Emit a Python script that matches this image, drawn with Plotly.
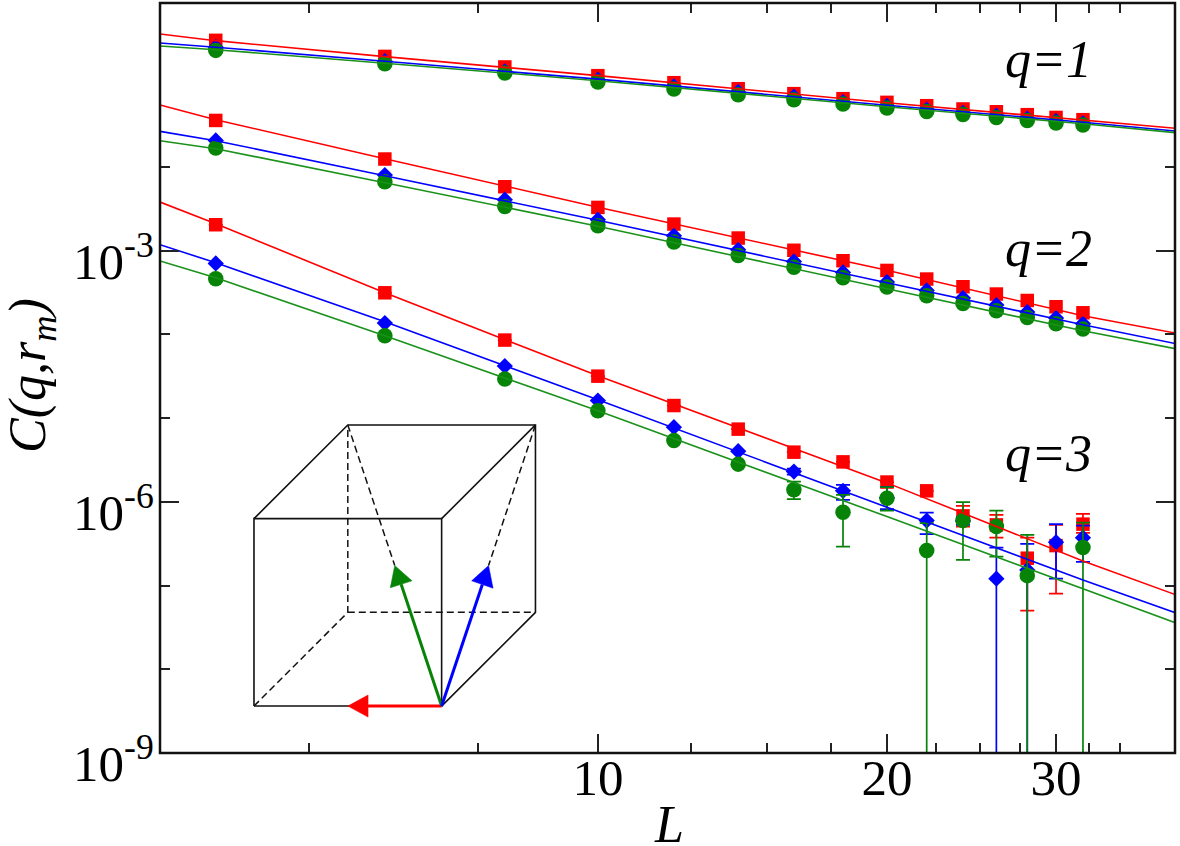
import plotly.graph_objects as go

# System sizes and fit abscissae
L = [4, 6, 8, 10, 12, 14, 16, 18, 20, 22, 24, 26, 28, 30, 32]
L_fit = [3.5, 4, 6, 10, 20, 32, 40]

# log10 C(q, r_m) per vector direction: red (100), blue (111), green (-111)
q1_red = [-0.486, -0.678, -0.804, -0.908, -0.992, -1.064, -1.123, -1.183, -1.227, -1.267, -1.306, -1.339, -1.374, -1.407, -1.434]
q1_blue = [-0.568, -0.735, -0.857, -0.956, -1.036, -1.103, -1.159, -1.223, -1.270, -1.315, -1.354, -1.386, -1.422, -1.450, -1.478]
q1_green = [-0.606, -0.765, -0.876, -0.984, -1.067, -1.135, -1.195, -1.247, -1.294, -1.335, -1.371, -1.407, -1.443, -1.474, -1.498]
q2_red = [-1.443, -1.904, -2.235, -2.482, -2.681, -2.848, -2.994, -3.119, -3.235, -3.338, -3.430, -3.517, -3.594, -3.669, -3.741]
q2_blue = [-1.682, -2.095, -2.390, -2.629, -2.821, -2.988, -3.128, -3.259, -3.374, -3.474, -3.565, -3.649, -3.733, -3.804, -3.872]
q2_green = [-1.772, -2.175, -2.470, -2.701, -2.896, -3.056, -3.197, -3.323, -3.434, -3.538, -3.630, -3.717, -3.797, -3.872, -3.936]
q3_red = [-2.689, -3.502, -4.067, -4.498, -4.849, -5.131, -5.406, -5.522, -5.763, -5.868, -6.167, -6.275, -6.673, -6.522, -6.266]
q3_blue = [-3.152, -3.864, -4.378, -4.789, -5.107, -5.394, -5.638, -5.868, -5.952, -6.223, -6.227, -6.917, -6.813, -6.482, -6.427]
q3_green = [-3.335, -4.016, -4.533, -4.912, -5.267, -5.549, -5.856, -6.123, -5.956, -6.582, -6.223, -6.295, -6.881, None, -6.546]

# Upper and lower error limits for q=3 (log10); None where the bar is negligible,
# -12 where the lower limit falls far below the axis
q3_red_hi = [None] * 10 + [-6.048, -6.155, -6.427, -6.275, -6.143]
q3_red_lo = [None] * 10 + [-6.295, -6.426, -7.299, -7.096, -6.370]
q3_blue_hi = [None] * 6 + [-5.602, -5.797, -5.820, -6.128, -6.179, -6.546, -6.502, -6.266, -6.283]
q3_blue_lo = [None] * 6 + [-5.674, -5.976, -6.087, -6.386, -6.275, -12, -12, -6.917, -6.717]
q3_green_hi = [None] * 6 + [-5.757, -5.916, -5.824, -6.254, -6.003, -6.104, -6.394, None, -6.247]
q3_green_lo = [None] * 6 + [-5.968, -6.534, -6.104, -12, -6.693, -6.654, -12, None, -12]

# Fit curves (log10) evaluated at L_fit
fit_q1_red = [-0.410, -0.490, -0.681, -0.908, -1.231, -1.440, -1.538]
fit_q1_blue = [-0.518, -0.568, -0.735, -0.950, -1.261, -1.464, -1.570]
fit_q1_green = [-0.553, -0.598, -0.759, -0.968, -1.279, -1.482, -1.590]
fit_q2_red = [-1.259, -1.434, -1.900, -2.480, -3.233, -3.777, -3.984]
fit_q2_blue = [-1.574, -1.685, -2.104, -2.635, -3.382, -3.884, -4.111]
fit_q2_green = [-1.685, -1.781, -2.187, -2.707, -3.454, -3.956, -4.171]
fit_q3_red = [-2.418, -2.677, -3.502, -4.494, -5.773, -6.705, -7.111]
fit_q3_blue = [-2.928, -3.143, -3.849, -4.781, -6.063, -6.932, -7.327]
fit_q3_green = [-3.123, -3.323, -4.016, -4.912, -6.176, -7.040, -7.446]

# Axis ticks
x_major = [10, 20, 30, 40]
x_major_text = ["10", "20", "30", ""]
x_minor = [5, 7.5, 12.5, 15, 17.5, 22.5, 25, 27.5, 32.5, 35]
y_major = [1e-9, 1e-6, 1e-3]
y_major_text = ["10<sup>-9</sup>", "10<sup>-6</sup>", "10<sup>-3</sup>"]
y_minor = [1e-8, 1e-7, 1e-5, 1e-4, 1e-2]

# Panel labels
q_labels = ["q=1", "q=2", "q=3"]

# Inset cube in units of the lattice edge, with the back face shifted by half an edge
cube_solid = [
    ([0, 1, 1, 0, 0], [0, 0, 1, 1, 0]),
    ([0, 0.5, 1.5, 1.5, 1], [1, 1.5, 1.5, 0.5, 0]),
    ([1, 1.5], [1, 1.5]),
]
cube_dashed = [
    ([0, 0.5, 0.5], [0, 0.5, 1.5]),
    ([0.5, 1.5], [0.5, 0.5]),
    ([0.5, 0.75], [1.5, 0.75]),
    ([1.5, 1.25], [1.5, 0.75]),
]
vec_start = (1, 0)
vec_red = {"tip": (0.5, 0), "base": [(0.608, 0.059), (0.608, -0.059)]}
vec_green = {"tip": (0.75, 0.75), "base": [(0.7265, 0.631), (0.842, 0.668)]}
vec_blue = {"tip": (1.25, 0.75), "base": [(1.160, 0.668), (1.274, 0.629)]}

RED = "#ff0000"
BLUE = "#0000ff"
GREEN = "#078407"
FIT_GREEN = "#1a921a"
FONT = "Liberation Serif"
INK = "#111111"

W, H = 1180, 846
M_L, M_R, M_T, M_B = 160, 5, 3, 93
PW, PH = W - M_L - M_R, H - M_T - M_B


def up(v):
    return None if v is None else 10.0 ** v


def ups(vals):
    return [up(v) for v in vals]


fig = go.Figure()


def add_points(vals, color, symbol, size, hi=None, lo=None):
    ys = ups(vals)
    kw = {}
    if hi is not None:
        plus = [0 if (h is None or y is None) else 10 ** h - y for h, y in zip(hi, ys)]
        minus = [0 if (l is None or y is None) else y - 10 ** l for l, y in zip(lo, ys)]
        kw["error_y"] = dict(type="data", symmetric=False, array=plus, arrayminus=minus,
                             color=color, thickness=1.7, width=7)
    fig.add_trace(go.Scatter(x=L, y=ys, mode="markers", showlegend=False,
                             marker=dict(color=color, symbol=symbol, size=size, line_width=0), **kw))


SQUARE, DIAMOND, CIRCLE = ("square", 13.5), ("diamond", 12.5), ("circle", 15.5)
for red, blue, green, errs in [
    (q1_red, q1_blue, q1_green, None),
    (q2_red, q2_blue, q2_green, None),
    (q3_red, q3_blue, q3_green,
     (q3_red_hi, q3_red_lo, q3_blue_hi, q3_blue_lo, q3_green_hi, q3_green_lo)),
]:
    e = errs or (None,) * 6
    add_points(red, RED, *SQUARE, e[0], e[1])
    add_points(blue, BLUE, *DIAMOND, e[2], e[3])
    add_points(green, GREEN, *CIRCLE, e[4], e[5])

# Fit curves sit above the symbols
for fit, color in [
    (fit_q1_red, RED), (fit_q1_blue, BLUE), (fit_q1_green, FIT_GREEN),
    (fit_q2_red, RED), (fit_q2_blue, BLUE), (fit_q2_green, FIT_GREEN),
    (fit_q3_red, RED), (fit_q3_blue, BLUE), (fit_q3_green, FIT_GREEN),
]:
    fig.add_trace(go.Scatter(x=L_fit, y=ups(fit), mode="lines", showlegend=False,
                             line=dict(color=color, width=1.6)))

# Inset cube
for xs, ys in cube_solid:
    fig.add_trace(go.Scatter(x=xs, y=ys, xaxis="x2", yaxis="y2", mode="lines", showlegend=False,
                             line=dict(color="#111111", width=1.6)))
for xs, ys in cube_dashed:
    fig.add_trace(go.Scatter(x=xs, y=ys, xaxis="x2", yaxis="y2", mode="lines", showlegend=False,
                             line=dict(color="#111111", width=1.5, dash="7px,4px")))
for vec, color, in [(vec_red, RED), (vec_green, GREEN), (vec_blue, BLUE)]:
    (tx, ty), (b0, b1) = vec["tip"], vec["base"]
    mx, my = (b0[0] + b1[0]) / 2, (b0[1] + b1[1]) / 2
    fig.add_trace(go.Scatter(x=[vec_start[0], mx], y=[vec_start[1], my], xaxis="x2", yaxis="y2",
                             mode="lines", showlegend=False, line=dict(color=color, width=3)))
    fig.add_trace(go.Scatter(x=[tx, b0[0], b1[0], tx], y=[ty, b0[1], b1[1], ty], xaxis="x2", yaxis="y2",
                             mode="lines", fill="toself", fillcolor=color, showlegend=False,
                             line=dict(color=color, width=0.5)))

axis_common = dict(showgrid=False, zeroline=False, showline=True, linecolor=INK, linewidth=0,
                   mirror="ticks", ticks="inside", tickcolor="#222222", tickwidth=1.8, ticklen=19,
                   tickmode="array", tickangle=0, tickfont=dict(family=FONT, size=51, color="#000000"))
minor_common = dict(ticks="inside", ticklen=10, tickcolor="#222222", tickwidth=1.8, showgrid=False)

fig.update_layout(
    width=W, height=H,
    margin=dict(l=M_L, r=M_R, t=M_T, b=M_B, autoexpand=False),
    paper_bgcolor="#ffffff", plot_bgcolor="#ffffff",
    showlegend=False,
    font=dict(family=FONT, color="#000000"),
    xaxis=dict(type="log", range=[0.544, 1.601], tickvals=x_major, ticktext=x_major_text,
               ticklabelstandoff=-20,
               minor=dict(tickmode="array", tickvals=x_minor, **minor_common), **axis_common),
    yaxis=dict(type="log", range=[-9, -0.04], tickvals=y_major, ticktext=y_major_text,
               ticklabelstandoff=-5, ticklabelshift=10,
               minor=dict(tickmode="array", tickvals=y_minor, **minor_common), **axis_common),
    xaxis2=dict(domain=[0.0741, 0.3884], range=[-0.1, 1.6], anchor="y2", visible=False),
    yaxis2=dict(domain=[0.0376, 0.4624], range=[-0.1, 1.6], anchor="x2", visible=False),
    # Frame centred on the plot-area edge
    shapes=[dict(type="rect", xref="paper", yref="paper", x0=0, x1=1, y0=0, y1=1,
                 line=dict(color=INK, width=2.5), layer="above")],
)

annotations = []
for text, ypx in zip(q_labels, [60, 248, 453]):
    annotations.append(dict(text=f"<i>{text}</i>", x=(1003 - M_L) / PW, xanchor="left",
                            y=1 - (ypx - M_T) / PH, yanchor="middle", xref="paper", yref="paper",
                            showarrow=False, font=dict(family=FONT, size=52, color="#000000")))
annotations.append(dict(text="<i>L</i>", x=(669 - M_L) / PW, xanchor="center",
                        y=1 - (824 - M_T) / PH, yanchor="middle", height=40, xref="paper", yref="paper",
                        showarrow=False, font=dict(family=FONT, size=52, color="#000000")))
annotations.append(dict(text="<i>C(q,r<sub>m</sub>)</i>", x=(31 - M_L) / PW, xanchor="center",
                        y=1 - (376 - M_T) / PH, yanchor="middle", xref="paper", yref="paper",
                        textangle=-90, showarrow=False, font=dict(family=FONT, size=52, color="#000000")))
fig.update_layout(annotations=annotations)

fig.write_html("out.html")
